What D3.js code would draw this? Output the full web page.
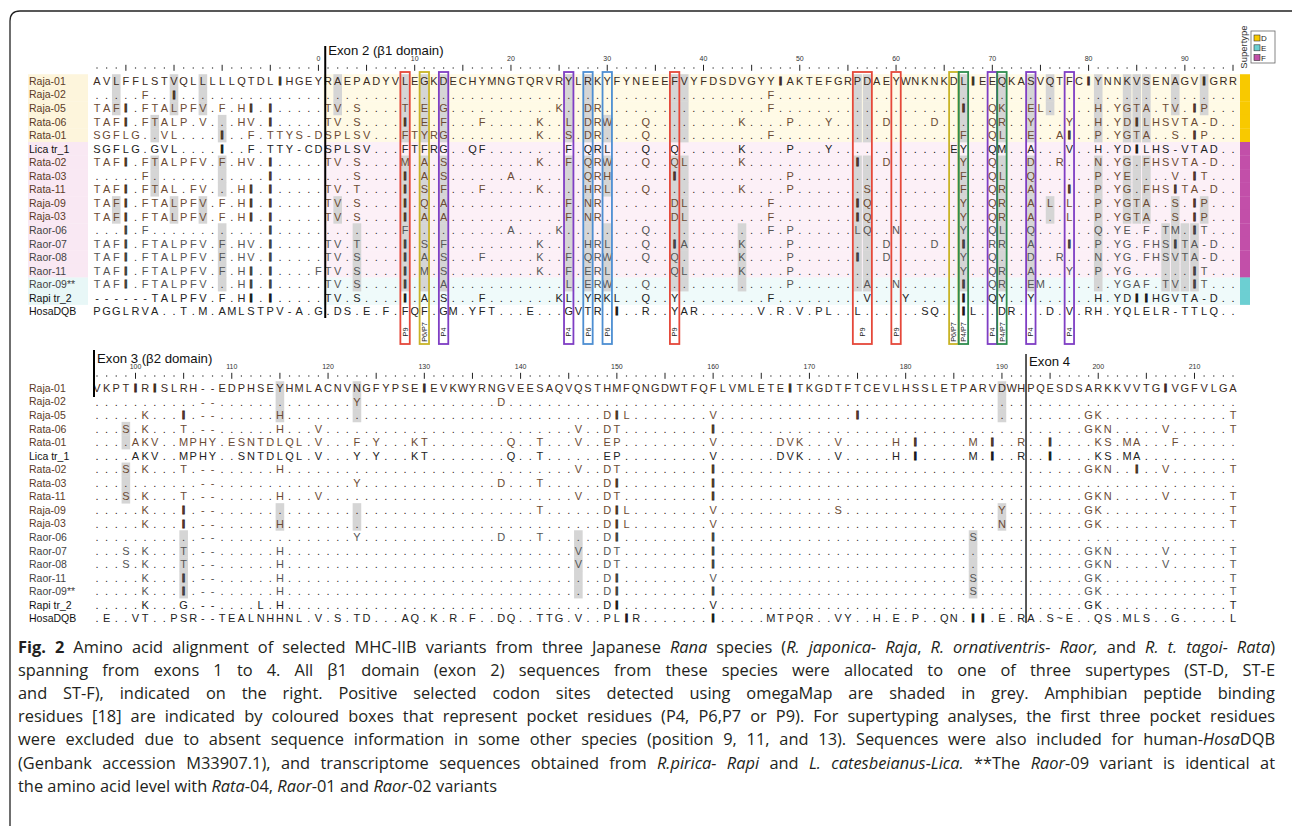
<!DOCTYPE html>
<html><head><meta charset="utf-8">
<script src="https://cdn.jsdelivr.net/npm/d3@7"></script>
<style>
html,body{margin:0;padding:0;background:#fff;}
svg text{white-space:pre;}
</style></head>
<body>
<svg id="chart" width="1292" height="826"></svg>
<script>
// ---------------- DATA ----------------
const rowNames = ["Raja-01","Raja-02","Raja-05","Rata-06","Rata-01","Lica tr_1","Rata-02","Rata-03","Rata-11","Raja-09","Raja-03","Raor-06","Raor-07","Raor-08","Raor-11","Raor-09**","Rapi tr_2","HosaDQB"];
const supertypes = ["D","D","D","D","D","F","F","F","F","F","F","F","F","F","F","E","E",""];

// exon 1 tail (24 columns before exon 2)
const preExon = [
 "AVLFFLSTVQLLLLLQTDLIHGEY",
 ".....F..I...............",
 "TAFI.FTALPFV.F.HI.I.....",
 "TAFI.FTALP.V...HV.I.....",
 "SGFLG..VL....I..F.TTYS-D",
 "SGFLG.GVL....I..F.TTY-CD",
 "TAFI.FTALPFV.F.HV.I.....",
 ".....F............I.....",
 "TAFI.FTAL.FV...HI.I.....",
 "TAFI.FTALPFV.F.HI.I.....",
 "TAFI.FTALPFV.F.HI.I.....",
 "...I.F............I.....",
 "TAFI.FTALPFV.F.HV.I.....",
 "TAFI.FTALPFV.F.HV.I.....",
 "TAFI.FTALPFV.F.HI.I....F",
 "TAFI.FTALPFV...HI.I.....",
 "------TALPFV.F.HI.I.....",
 "PGGLRVA..T.M.AMLSTPV-A.G"
];
// exon 2 (positions 1-95): reference, then differences "position+residue"
const exon2Ref = "RAEPADYVLEGKDECHYMNGTQRVRYLRKYFYNEEEFVYFDSDVGYYIAKTEFGRPDAEYWNKNKDLIEEQKASVQTFCIYNNKVSENAGVIGRR";
const exon2Diffs = [
 "",
 "47F",
 "1T 2V 4S 9T 11E 13G 25K 28D 29R 47F 67I 70Q 71K 74E 75L 81H 83Y 84G 85T 86A 88T 89V 91I 92P",
 "1T 2V 4S 9I 11E 13F 17F 23K 26L 28D 29R 30W 34Q 44K 49P 53Y 59D 64D 70Q 71R 74Y 78Y 81H 83Y 84D 85I 86L 87H 88S 89V 90T 91A 92- 93D",
 "1S 2P 3L 4S 5V 9F 10T 11Y 12R 13G 23K 26S 28D 29R 34Q 47F 67F 70Q 71L 74E 77A 78I 81P 83Y 84G 85T 86A 89S 91I 92P",
 "1S 2P 3L 4S 5V 9F 10T 11F 12R 13G 16Q 17F 26F 28Q 29R 30L 34Q 37Q 44K 49P 53Y 66E 67Y 70Q 71M 74A 78V 81H 83Y 84D 85I 86L 87H 88S 89- 90V 91T 92A 93D",
 "1T 2V 4S 9M 11A 13S 23K 26F 28Q 29R 30W 34Q 37Q 38L 44K 56I 59D 67Y 70Q 74D 77R 81N 83Y 84G 86F 87H 88S 89V 90T 91A 92- 93D",
 "4S 9I 11A 13S 20A 28Q 29R 30H 37I 49P 67F 70Q 71L 74Q 81P 83Y 84E 89V 91I 92T",
 "1T 2V 4T 9I 11S 13F 17F 23K 28H 29R 30L 34Q 44K 49P 57S 67F 70Q 71R 74A 78I 81P 83Y 84G 86F 87H 88S 89I 90T 91A 92- 93D",
 "1T 2V 4S 9I 11Q 13A 26F 28N 29R 37D 38L 47F 56I 57Q 67Y 70Q 71R 74A 76L 78L 81P 83Y 84G 85T 86A 89S 91I 92P",
 "1T 2V 4S 9I 11A 13A 26F 28N 29R 37D 38L 47F 56I 57Q 67Y 70Q 71R 74A 78L 81P 83Y 84G 85T 86A 89S 91I 92P",
 "9F 20A 25K 34Q 47F 49P 56L 57Q 60N 67Y 70Q 71L 74Q 81Q 83Y 84E 86F 88T 89M 91I 92T",
 "1T 2V 4T 9I 11S 13F 23K 28H 29R 30L 34Q 37I 38A 44K 49P 59D 64D 67I 70R 71R 74A 78I 81P 83Y 84G 86F 87H 88S 89I 90T 91A 92- 93D",
 "1T 2V 4S 9I 11A 13S 17F 23K 26F 28Q 29R 30W 34Q 37Q 44K 49P 56I 59D 67Y 70Q 74D 77R 81N 83Y 84G 86F 87H 88S 89V 90T 91A 92- 93D",
 "1T 2V 4S 9I 11M 13S 23K 26F 28E 29R 30L 37Q 38L 44K 49P 67Y 70Q 71R 74A 78Y 81P 83Y 84G 91I 92T",
 "1T 2V 4S 9I 13A 26L 28E 29R 30W 34Q 49P 57A 60N 67I 70Q 71R 74E 75M 83Y 84G 85A 86F 88T 89V 91I 92T",
 "1T 2V 4S 9I 11A 13S 17F 25K 26L 28Y 29R 30K 31L 34Q 37Y 47F 57V 61Y 67I 70Q 71Y 74Y 81H 83Y 84D 85I 86I 87H 88G 89V 90T 91A 92- 93D",
 "2D 3S 5E 7F 9F 10Q 11F 13G 14M 16Y 17F 18T 22E 26G 27V 28T 29R 31I 34R 37Y 38A 39R 46V 48R 50V 52P 53L 56L 63S 64Q 67I 68L 71D 72R 76D 78V 80R 81H 83Y 84Q 85L 86E 87L 88R 89- 90T 91T 92L 93Q"
];
// exons 3-4 (positions 96-214)
const exon34Ref = "VKPTIRISLRH--EDPHSEYHMLACNVNGFYPSEIEVKWYRNGVEESAQVQSTHMFQNGDWTFQFLVMLETEITKGDTFTCEVLHSSLETPARVDWHPQESDSARKKVVTGIVGFVLGA";
const exon34Diffs = [
 "",
 "123Y 138D",
 "101K 105I 115H 149D 150I 151L 160V 175I 199G 200K 214T",
 "99S 101K 105T 115H 119V 146V 149D 150T 160I 199G 200K 201N 207V 214T",
 "100A 101K 102V 105M 106P 107H 108Y 110E 111S 112N 113T 114D 115L 116Q 117L 119V 123F 125Y 129K 130T 139Q 142T 146V 149E 150P 160V 167D 168V 169K 173V 179H 181I 187M 189I 192R 195I 200K 201S 203M 204A 208F",
 "100A 101K 102V 105M 106P 107H 108Y 111S 112N 113T 114D 115L 116Q 117L 119V 123Y 125Y 129K 130T 139Q 142T 149E 150P 160V 167D 168V 169K 173V 179H 181I 187M 189I 192R 195I 200K 201S 203M 204A",
 "99S 101K 105T 115H 146V 149D 150T 160I 199G 200K 201N 204I 207V 214T",
 "123Y 138D 142T 149D 150I 160I",
 "99S 101K 105T 115H 119V 146V 149D 150T 160I 199G 200K 201N 207V 214T",
 "101K 105I 142T 149D 150I 151L 160V 173S 190Y 199G 200K 214T",
 "101K 105I 115H 149D 150I 151L 160V 190N 199G 200K 214T",
 "123Y 138D 142T 149D 150I 160I 187S",
 "99S 101K 105T 115H 146V 149D 150T 160I 199G 200K 201N 207V 214T",
 "99S 101K 105T 115H 146V 149D 150T 160I 199G 200K 201N 207V 214T",
 "101K 105I 115H 149D 150I 160V 187S 199G 200K 214T",
 "101K 105I 115H 149D 150I 160I 187S 199G 200K 214T",
 "101K 105G 113L 115H 149D 150I 160V 199G 200K 214T",
 "97E 100V 101T 104P 105S 106R 109T 110E 111A 112L 113N 114H 115H 116N 117L 119V 121S 123T 124D 128A 129Q 131K 133R 135F 138D 139Q 142T 143T 144G 146V 149P 150L 151I 152R 160I 166M 167T 168P 169Q 170R 173V 174Y 177H 179E 181P 184Q 185N 187I 188I 190E 192R 193A 195S 196~ 197E 200Q 201S 203M 204L 205S 208G 214L"
];
// positively selected sites (omegaMap) per species
const selPre   = {Raja:[2,8,11], Rata:[6,13], Raor:[13]};
const selExon2 = {Raja:[2,9,11,13,26,28,37,38,56,57,67,71,74,76,81,84,85,86,89,92],
                  Rata:[9,11,13,26,28,30,37,38,56,57,67,71,74,81,84,85,86],
                  Raor:[4,9,11,13,26,28,30,37,38,44,56,57,67,71,74,81,88,89,90,91]};
const selExon34 = {Raja:[115,123,190], Rata:[99], Raor:[105,146,187]};
// pocket residues
const pockets = [
 {pos:9,span:1,label:"P9",kind:"P9"},{pos:11,span:1,label:"P6/P7",kind:"P67"},{pos:13,span:1,label:"P4",kind:"P4"},
 {pos:26,span:1,label:"P4",kind:"P4"},{pos:28,span:1,label:"P6",kind:"P6"},{pos:30,span:1,label:"P6",kind:"P6"},
 {pos:37,span:1,label:"P9",kind:"P9"},{pos:56,span:2,label:"P9",kind:"P9"},{pos:60,span:1,label:"P9",kind:"P9"},
 {pos:66,span:1,label:"P6/P7",kind:"P67"},{pos:67,span:1,label:"P4/P7",kind:"P47"},{pos:70,span:1,label:"P4",kind:"P4"},
 {pos:71,span:1,label:"P4/P7",kind:"P47"},{pos:74,span:1,label:"P4",kind:"P4"},{pos:78,span:1,label:"P4",kind:"P4"}
];
const supertypeKeys = ["D","E","F"];

const captionLines = [
 [["Fig. 2","b"],[" Amino acid alignment of selected MHC-IIB variants from three Japanese ",""],["Rana","i"],[" species (",""],["R. japonica- Raja","i"],[", ",""],["R. ornativentris- Raor,","i"],[" and ",""],["R. t. tagoi- Rata","i"],[")",""]],
 [["spanning from exons 1 to 4. All β1 domain (exon 2) sequences from these species were allocated to one of three supertypes (ST-D, ST-E",""]],
 [["and ST-F), indicated on the right. Positive selected codon sites detected using omegaMap are shaded in grey. Amphibian peptide binding",""]],
 [["residues [18] are indicated by coloured boxes that represent pocket residues (P4, P6,P7 or P9). For supertyping analyses, the first three pocket residues",""]],
 [["were excluded due to absent sequence information in some other species (position 9, 11, and 13). Sequences were also included for human-",""],["Hosa","i"],["DQB",""]],
 [["(Genbank accession M33907.1), and transcriptome sequences obtained from ",""],["R.pirica- Rapi","i"],[" and ",""],["L. catesbeianus-Lica.","i"],[" **The ",""],["Raor","i"],["-09 variant is identical at",""]],
 [["the amino acid level with ",""],["Rata","i"],["-04, ",""],["Raor","i"],["-01 and ",""],["Raor","i"],["-02 variants",""]]
];

// ---------------- STYLE ----------------
const FONT = "'Liberation Sans', Arial, sans-serif";
const SEQ_FS = 11;
const stColor = {D:"#f8c900", E:"#6ccfd2", F:"#c24fa9"};
const stTint  = {D:"#fffae6", E:"#effafa", F:"#fcf0f7"};
const stTintL = {D:"#fdf5dc", E:"#e8f7f7", F:"#f9e8f3"};
const pocketColor = {P9:"#e5483a", P67:"#c8b427", P4:"#7f3ec4", P6:"#4d8ed2", P47:"#2e8c4e"};
function rowStyle(name){
  if (name.startsWith("Raja")||name.startsWith("Rata")) return {label:"#5c3b27", letter:"#6b4a33", dot:"#3a281c"};
  if (name.startsWith("Raor")) return {label:"#444", letter:"#555", dot:"#333"};
  return {label:"#111", letter:"#222", dot:"#111"};
}
function species(name){ return name.slice(0,4); }

// ---------------- BUILD ----------------
function expand(ref, diffs, offset){
  return diffs.map((d,i)=>{
    if (i===0) return ref.split("");
    const arr = ref.split("").map(c=> c==="-" ? "-" : ".");
    d.split(/\s+/).filter(Boolean).forEach(tok=>{
      const m = tok.match(/^(\d+)(.)$/);
      arr[+m[1]-offset] = m[2];
    });
    return arr;
  });
}
const exon2Rows = expand(exon2Ref, exon2Diffs, 1);
const topRows = rowNames.map((n,i)=> preExon[i].split("").concat(exon2Rows[i]));
const botRows = expand(exon34Ref, exon34Diffs, 96);
const NPRE = 24;

const svg = d3.select("#chart");
const x = d3.scaleLinear().domain([0,118]).range([97,1233]);
const colW = x(1)-x(0);
const RH = 13.55;
const yTop = d3.scaleLinear().domain([0,17]).range([81, 81+17*RH]);
const yBot = d3.scaleLinear().domain([0,17]).range([388, 388+17*RH]);

// border
svg.append("path").attr("d","M10,826 L10,21 Q10,11 20,11 L1292,11")
  .attr("fill","none").attr("stroke","#222").attr("stroke-width",1.3);

function drawBlock(rows, yS, opts){
  const g = svg.append("g");
  if (opts.tint){
    rowNames.forEach((n,i)=>{
      const st = supertypes[i]; if(!st) return;
      g.append("rect").attr("x",28).attr("y",yS(i)-RH/2).attr("width",60).attr("height",RH+0.3).attr("fill",stTintL[st]);
      g.append("rect").attr("x",x(NPRE)-4.8).attr("y",yS(i)-RH/2).attr("width",1240-(x(NPRE)-4.8)).attr("height",RH+0.3).attr("fill",stTint[st]);
    });
  }
  rowNames.forEach((n,i)=>{
    const cols = opts.selCols(species(n));
    cols.forEach(c=>{
      g.append("rect").attr("x",x(c)-4.3).attr("y",yS(i)-RH/2).attr("width",8.6).attr("height",RH+0.4).attr("fill","#d5d5d5");
    });
  });
  rowNames.forEach((n,i)=>{
    const s = rowStyle(n);
    g.append("text").attr("x",29).attr("y",yS(i)+3.9).attr("font-family",FONT).attr("font-size",10.5)
      .attr("fill",s.label).text(n);
    rows[i].forEach((ch,c)=>{
      const t = g.append("text").attr("x",x(c)).attr("y",yS(i)+4).attr("text-anchor","middle")
        .attr("font-family",FONT).attr("font-size",SEQ_FS)
        .attr("fill", ch==="."? s.dot : (i===0? "#3a2a20": s.letter)).text(ch);
      if (ch==="I") t.attr("font-weight","bold").attr("stroke",i===0?"#3a2a20":s.dot).attr("stroke-width",0.9);
    });
  });
  return g;
}

drawBlock(topRows, yTop, {tint:true, selCols: sp=>{
  const a = (selPre[sp]||[]).slice();
  (selExon2[sp]||[]).forEach(p=>a.push(p+NPRE-1));
  return a;
}});
drawBlock(botRows, yBot, {tint:false, selCols: sp=> (selExon34[sp]||[]).map(p=>p-96)});

// rulers
function ruler(yDots, posOf, labelY){
  const g = svg.append("g");
  d3.range(0,119).forEach(c=>{
    const p = posOf(c);
    if (p%5===0){
      g.append("line").attr("x1",x(c)).attr("x2",x(c)).attr("y1",yDots-3.2).attr("y2",yDots+2.8)
        .attr("stroke","#222").attr("stroke-width",1);
      if (p%10===0 && p>=0)
        g.append("text").attr("x",x(c)).attr("y",labelY).attr("text-anchor","middle")
          .attr("font-family",FONT).attr("font-size",7).attr("fill","#333").text(p);
    } else {
      g.append("rect").attr("x",x(c)-0.6).attr("y",yDots-0.6).attr("width",1.2).attr("height",1.2).attr("fill","#333");
    }
  });
}
ruler(68, c=>c-(NPRE-1), 61);
ruler(376, c=>c+96, 369);

// supertype bar
rowNames.forEach((n,i)=>{
  const st = supertypes[i]; if(!st) return;
  svg.append("rect").attr("x",1240).attr("y",yTop(i)-RH/2).attr("width",10).attr("height",RH+0.3).attr("fill",stColor[st]);
});

// pocket boxes
pockets.forEach(pk=>{
  const c0 = pk.pos+NPRE-1;
  const x0 = x(c0)-4.7, w = (pk.span-1)*colW+9.4;
  svg.append("rect").attr("x",x0).attr("y",72).attr("width",w).attr("height",272)
    .attr("fill","none").attr("stroke",pocketColor[pk.kind]).attr("stroke-width",1.8);
  const cx = x0+w/2+2.6;
  svg.append("text").attr("transform",`translate(${cx},332) rotate(-90)`).attr("text-anchor","middle")
    .attr("font-family",FONT).attr("font-size",7.2).attr("fill","#222").text(pk.label);
});

// exon boundaries
svg.append("line").attr("x1",x(NPRE-0.5)+2).attr("x2",x(NPRE-0.5)+2).attr("y1",46).attr("y2",318).attr("stroke","#000").attr("stroke-width",2);
svg.append("text").attr("x",x(NPRE-0.5)+5).attr("y",55).attr("font-family",FONT).attr("font-size",13.2).attr("fill","#111").text("Exon 2 (β1 domain)");
svg.append("line").attr("x1",94).attr("x2",94).attr("y1",350).attr("y2",397).attr("stroke","#000").attr("stroke-width",2);
svg.append("text").attr("x",97).attr("y",363).attr("font-family",FONT).attr("font-size",13.2).attr("fill","#111").text("Exon 3 (β2 domain)");
const e4 = x(96.5);
svg.append("line").attr("x1",e4).attr("x2",e4).attr("y1",354).attr("y2",623).attr("stroke","#111").attr("stroke-width",1.4);
svg.append("text").attr("x",e4+3).attr("y",366).attr("font-family",FONT).attr("font-size",13.2).attr("fill","#111").text("Exon 4");

// legend
const lg = svg.append("g");
lg.append("rect").attr("x",1251).attr("y",31).attr("width",24).attr("height",32).attr("fill","#fff").attr("stroke","#666").attr("stroke-width",0.8);
supertypeKeys.forEach((k,i)=>{
  lg.append("rect").attr("x",1254).attr("y",35+i*9.8).attr("width",6).attr("height",6).attr("fill",stColor[k]).attr("stroke","#333").attr("stroke-width",0.6);
  lg.append("text").attr("x",1261).attr("y",41.2+i*9.8).attr("font-family",FONT).attr("font-size",8).attr("fill","#222").text(k);
});
lg.append("text").attr("transform","translate(1247,47) rotate(-90)").attr("text-anchor","middle")
  .attr("font-family",FONT).attr("font-size",9.5).attr("fill","#333").text("Supertype");

// caption
const CAPF = "'Open Sans', Lato, sans-serif";
captionLines.forEach((segs,li)=>{
  const t = svg.append("text").attr("x",18).attr("y",653+li*23.1).attr("font-family",CAPF)
    .attr("font-size",16.4).attr("fill","#231f20");
  segs.forEach(([s,st])=>{
    const ts = t.append("tspan").text(s);
    if (st==="b") ts.attr("font-weight","bold");
    if (st==="i") ts.attr("font-style","italic");
  });
  if (li < captionLines.length-1){
    const nat = t.node().getComputedTextLength();
    const txt = segs.map(d=>d[0]).join("");
    const spaces = (txt.match(/ /g)||[]).length;
    const ws = (1275-18-nat)/spaces;
    if (ws >= -1) t.attr("word-spacing", ws.toFixed(3));
    else t.attr("textLength", 1257).attr("lengthAdjust","spacingAndGlyphs");
  }
});
</script>
</body></html>
